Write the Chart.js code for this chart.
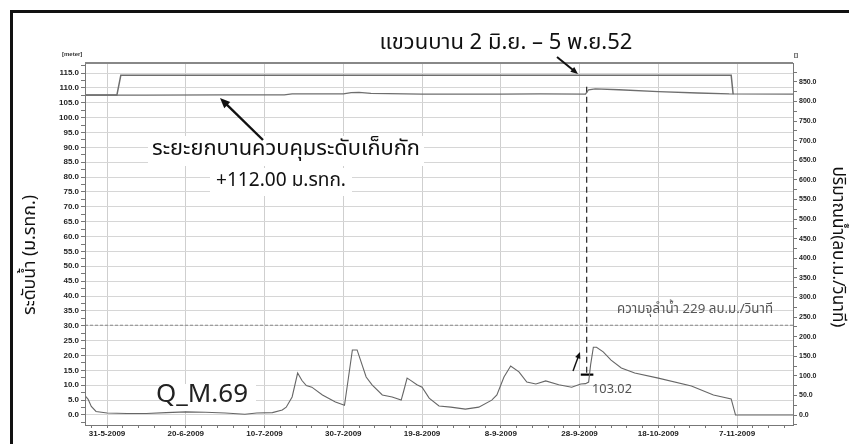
<!DOCTYPE html>
<html>
<head>
<meta charset="utf-8">
<script src="https://cdn.jsdelivr.net/npm/chart.js@4.4.0/dist/chart.umd.min.js"></script>
<style>
  html, body { margin: 0; padding: 0; background: #fff; overflow: hidden; }
  #wrap { width: 849px; height: 444px; position: relative; }
</style>
</head>
<body>
<div id="wrap"><canvas id="c" width="849" height="444"></canvas></div>
<script>
// Day numbers are counted from 31 May 2009 (day 0).
const dateLabels = ['31-5-2009', '20-6-2009', '10-7-2009', '30-7-2009', '19-8-2009',
                    '8-9-2009', '28-9-2009', '18-10-2009', '7-11-2009'];
const labelDays = [0, 20, 40, 60, 80, 100, 120, 140, 160];

// Discharge at station M.69 (m3/s, right axis)
const flowDays = [-5.5, -4.8, -4, -2.8, 0, 5, 10, 15, 20, 25, 30, 35, 38, 42, 44.5, 45.5, 47, 48.4,
                  49.5, 50.6, 52, 54.7, 58, 60.3, 61.3, 62.3, 63.5, 65.8, 67.3, 69.9, 72.4, 74.7,
                  75.3, 76.2, 77, 78.7, 80, 81.8, 84.3, 87.3, 91, 94.4, 97.7, 99, 100.8, 102.5,
                  104.6, 106.6, 108.9, 111.4, 114.7, 118, 120.3, 121.5, 122.3, 122.8, 123.5, 124.3,
                  126, 128, 130.6, 134, 140, 148.4, 154, 158.5, 159.6, 174.2];
const flowValues = [48, 40, 22, 9, 5, 4, 4, 6, 8, 7, 5, 2, 5, 6, 13, 20, 46, 107,
                    88, 75, 71, 51, 33, 25, 95, 166, 166, 97, 77, 51, 46, 38,
                    60, 94, 89, 77, 71, 43, 23, 20, 15, 20, 38, 51, 97, 125,
                    110, 84, 79, 87, 77, 71, 79, 80, 84, 128, 173, 173,
                    161, 140, 120, 107, 94, 74, 51, 41, 0, 0];

// Water level upstream of the gates (m MSL, left axis)
const levelDays = [-5.6, 10, 30, 45, 47, 60, 62, 64, 67, 80, 100, 110, 121.5, 122.3, 124, 130, 140, 150, 158, 174.2];
const levelValues = [107.6, 107.6, 107.7, 107.7, 108.0, 108.0, 108.4, 108.5, 108.2, 107.9, 107.9, 108.0,
                     107.9, 109.4, 109.7, 109.4, 108.8, 108.3, 108.0, 107.9];

// Gate lift level (m MSL, left axis)
const gateDays = [-5.6, 2.5, 3.5, 158.5, 159];
const gateValues = [107.6, 107.6, 114.3, 114.3, 107.9];

// Flow reading marked at the end of September
const markFlow = 103.02;
const markDays = [120.3, 123.5];

// Channel capacity
const capacityFlow = 229;
const capacityDays = [-5.6, 174.2];

const pts = (xs, ys) => xs.map((x, i) => ({ x: x, y: ys[i] }));

const THAI = '"Tahoma", "Noto Sans Thai", "Garuda", "Loma", "Norasi", "DejaVu Sans", sans-serif';

function fitText(ctx, text, cx, cy, width, weight, family, color, rot) {
  ctx.save();
  ctx.font = weight + ' 20px ' + family;
  const w = ctx.measureText(text).width;
  const size = 20 * width / w;
  ctx.font = weight + ' ' + size.toFixed(2) + 'px ' + family;
  ctx.fillStyle = color;
  ctx.textAlign = 'center';
  ctx.textBaseline = 'middle';
  ctx.translate(cx, cy);
  if (rot) ctx.rotate(rot);
  ctx.fillText(text, 0, 0);
  ctx.restore();
}

function arrow(ctx, x1, y1, x2, y2, width, head) {
  const a = Math.atan2(y2 - y1, x2 - x1);
  ctx.save();
  ctx.strokeStyle = '#111';
  ctx.fillStyle = '#111';
  ctx.lineWidth = width;
  ctx.beginPath();
  ctx.moveTo(x1, y1);
  ctx.lineTo(x2 - Math.cos(a) * head * 0.6, y2 - Math.sin(a) * head * 0.6);
  ctx.stroke();
  ctx.beginPath();
  ctx.moveTo(x2, y2);
  ctx.lineTo(x2 - head * Math.cos(a - 0.4), y2 - head * Math.sin(a - 0.4));
  ctx.lineTo(x2 - head * Math.cos(a + 0.4), y2 - head * Math.sin(a + 0.4));
  ctx.closePath();
  ctx.fill();
  ctx.restore();
}

const decor = {
  id: 'decor',
  beforeDatasetsDraw(chart) {
    const ctx = chart.ctx;
    const a = chart.chartArea;
    // white backing behind the notes inside the plot
    ctx.save();
    ctx.fillStyle = '#fff';
    ctx.fillRect(148, 136, 276, 30);
    ctx.fillRect(210, 168, 142, 28);
    ctx.fillRect(160, 384, 96, 27);
    ctx.restore();

    fitText(ctx, 'ระยะยกบานควบคุมระดับเก็บกัก', 286, 151, 268, 'normal', THAI, '#111');
    fitText(ctx, '+112.00 ม.รทก.', 281, 182, 130, 'normal', THAI, '#111');
    fitText(ctx, 'Q_M.69', 202, 397, 92, 'normal', THAI, '#222');
    fitText(ctx, '103.02', 612, 390, 40, 'normal', THAI, '#555');
    fitText(ctx, 'ความจุลำน้ำ 229 ลบ.ม./วินาที', 695, 310, 156, 'normal', THAI, '#555');

    // vertical dashed marker from the level peak down to the flow reading
    const xs = chart.scales.x, yl = chart.scales.y, yr = chart.scales.y2;
    const vx = xs.getPixelForValue(121.8);
    ctx.save();
    ctx.strokeStyle = '#333';
    ctx.lineWidth = 1.3;
    ctx.setLineDash([6, 4]);
    ctx.beginPath();
    ctx.moveTo(vx, yl.getPixelForValue(110.4));
    ctx.lineTo(vx, yr.getPixelForValue(markFlow));
    ctx.stroke();
    ctx.restore();
  },
  afterDraw(chart) {
    const ctx = chart.ctx;
    const a = chart.chartArea;
    // plot border
    ctx.save();
    ctx.strokeStyle = '#777';
    ctx.lineWidth = 1;
    ctx.strokeRect(a.left + 0.5, a.top + 0.5, a.right - a.left, a.bottom - a.top);
    ctx.strokeStyle = '#888';
    ctx.lineWidth = 2;
    ctx.beginPath();
    ctx.moveTo(a.left, a.top);
    ctx.lineTo(a.right, a.top);
    ctx.stroke();
    // outer frame
    ctx.strokeStyle = '#111';
    ctx.lineWidth = 3;
    ctx.strokeRect(11.5, 11.5, 900, 500);
    ctx.restore();

    // unit labels
    ctx.save();
    ctx.font = 'bold 6px "Liberation Sans", Arial, sans-serif';
    ctx.fillStyle = '#333';
    ctx.textAlign = 'left';
    ctx.textBaseline = 'middle';
    ctx.fillText('[meter]', 62, 54);
    ctx.fillText('[]', 794, 55);
    ctx.restore();

    // header note
    fitText(ctx, 'แขวนบาน 2 มิ.ย. – 5 พ.ย.52', 506, 45, 253, 'normal', THAI, '#111');

    // axis titles
    fitText(ctx, 'ระดับน้ำ (ม.รทก.)', 31, 255, 120, 'normal', THAI, '#111', -Math.PI / 2);
    fitText(ctx, 'ปริมาณน้ำ(ลบ.ม./วินาที)', 836, 247, 161, 'normal', THAI, '#111', Math.PI / 2);

    // pointer arrows
    arrow(ctx, 557, 57, 578, 74, 2, 8);
    arrow(ctx, 263, 140, 220, 98, 2.4, 11);
    arrow(ctx, 573, 371, 580, 352, 1.4, 7);
  }
};

new Chart(document.getElementById('c'), {
  type: 'line',
  data: {
    datasets: [
      { label: 'gate', data: pts(gateDays, gateValues), yAxisID: 'y',
        borderColor: '#6e6e6e', borderWidth: 1.5, pointRadius: 0, tension: 0 },
      { label: 'level', data: pts(levelDays, levelValues), yAxisID: 'y',
        borderColor: '#6e6e6e', borderWidth: 1.3, pointRadius: 0, tension: 0 },
      { label: 'capacity', data: pts(capacityDays, [capacityFlow, capacityFlow]), yAxisID: 'y2',
        borderColor: '#8a8a8a', borderWidth: 1, borderDash: [3, 2], pointRadius: 0 },
      { label: 'Q_M.69', data: pts(flowDays, flowValues), yAxisID: 'y2',
        borderColor: '#666', borderWidth: 1.1, pointRadius: 0, tension: 0 },
      { label: 'mark', data: pts(markDays, [markFlow, markFlow]), yAxisID: 'y2',
        borderColor: '#000', borderWidth: 2.2, pointRadius: 0 }
    ]
  },
  options: {
    responsive: false,
    animation: false,
    devicePixelRatio: 1,
    layout: { padding: { top: 63, left: 0, right: 0, bottom: 0 } },
    plugins: { legend: { display: false }, tooltip: { enabled: false } },
    scales: {
      x: {
        type: 'linear', position: 'bottom', min: -5.6, max: 174.2,
        afterBuildTicks: s => {
          const t = [];
          for (let d = -4; d <= 172; d += 4) t.push({ value: d });
          s.ticks = t;
        },
        afterFit: s => { s.height = 19; },
        ticks: {
          autoSkip: false, maxRotation: 0, padding: 1,
          color: '#222', font: { size: 8, weight: 'bold', family: '"Liberation Sans", Arial, sans-serif' },
          callback: v => { const i = labelDays.indexOf(v); return i >= 0 ? dateLabels[i] : ''; }
        },
        grid: {
          color: c => (c.tick && labelDays.indexOf(c.tick.value) >= 0) ? '#cfcfcf' : 'rgba(0,0,0,0)',
          tickColor: '#777', tickLength: 3, lineWidth: 1
        },
        border: { display: false }
      },
      y: {
        type: 'linear', position: 'left', min: -3.4, max: 118.4,
        afterBuildTicks: s => {
          const t = [];
          for (let v = -2.5; v <= 117.5; v += 2.5) t.push({ value: v });
          s.ticks = t;
        },
        afterFit: s => { s.width = 85; },
        ticks: {
          autoSkip: false, padding: 2,
          color: '#222', font: { size: 8, weight: 'bold', family: '"Liberation Sans", Arial, sans-serif' },
          callback: v => (v >= 0 && v <= 115 && Math.abs(v % 5) < 1e-9) ? v.toFixed(1) : ''
        },
        grid: {
          color: c => (c.tick && c.tick.value >= 0 && Math.abs(c.tick.value % 5) < 1e-9) ? '#d6d6d6' : 'rgba(0,0,0,0)',
          tickColor: '#777', tickLength: 4
        },
        border: { display: false }
      },
      y2: {
        type: 'linear', position: 'right', min: -25.5, max: 898,
        afterBuildTicks: s => {
          const t = [];
          for (let v = -25; v <= 875; v += 25) t.push({ value: v });
          s.ticks = t;
        },
        afterFit: s => { s.width = 56; },
        ticks: {
          autoSkip: false, padding: 2,
          color: '#222', font: { size: 7, weight: 'bold', family: '"Liberation Sans", Arial, sans-serif' },
          callback: v => (v >= 0 && v <= 850 && v % 50 === 0) ? v.toFixed(1) : ''
        },
        grid: { drawOnChartArea: false, color: '#777', tickLength: 4 },
        border: { display: false }
      }
    }
  },
  plugins: [decor]
});
</script>
</body>
</html>
